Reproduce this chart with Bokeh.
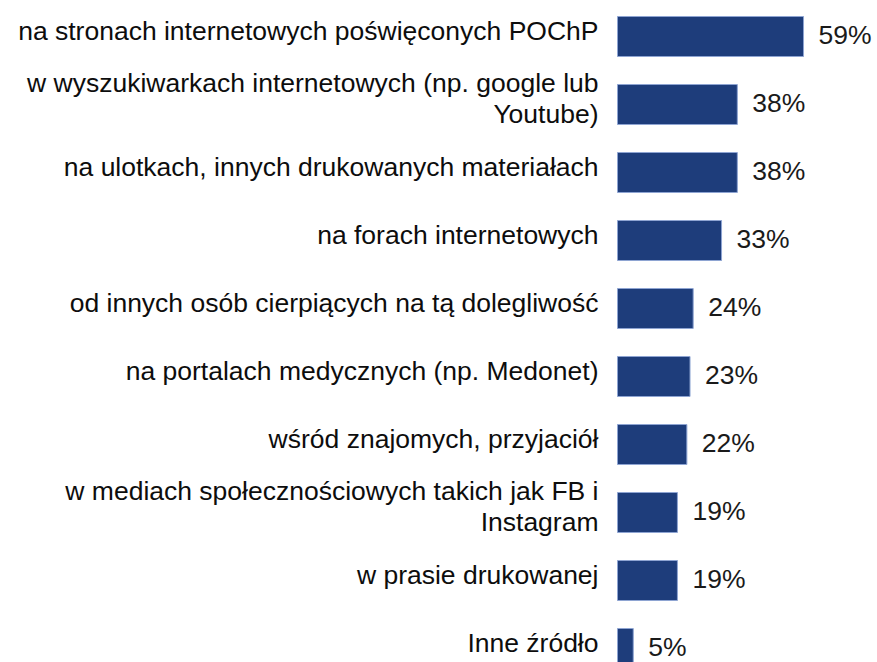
from bokeh.plotting import figure
from bokeh.models import ColumnDataSource, Range1d
from bokeh.core.properties import value
from bokeh.embed import file_html
from bokeh.resources import INLINE

categories = [
    "na stronach internetowych poświęconych POChP",
    "w wyszukiwarkach internetowych (np. google lub\nYoutube)",
    "na ulotkach, innych drukowanych materiałach",
    "na forach internetowych",
    "od innych osób cierpiących na tą dolegliwość",
    "na portalach medycznych (np. Medonet)",
    "wśród znajomych, przyjaciół",
    "w mediach społecznościowych takich jak FB i\nInstagram",
    "w prasie drukowanej",
    "Inne źródło",
]
values = [59, 38, 38, 33, 24, 23, 22, 19, 19, 5]
value_labels = [f"{v}%" for v in values]

W, H = 877, 662
px_per_unit = 3.153
zero_px = 617
row_px = 68
top_px = 36

positions = list(range(len(categories)))
src = ColumnDataSource(dict(y=positions, v=values, cat=categories, lab=value_labels,
                            zero=[0] * len(values)))

p = figure(width=W, height=H, output_backend="svg", toolbar_location=None,
           x_range=Range1d(-zero_px / px_per_unit, (W - zero_px) / px_per_unit),
           y_range=Range1d(H / row_px - top_px / row_px, -top_px / row_px),
           min_border=0, min_border_left=0, min_border_right=0,
           min_border_top=0, min_border_bottom=0)
p.axis.visible = False
p.grid.visible = False
p.outline_line_color = None
p.background_fill_color = "white"
p.border_fill_color = "white"

p.hbar(y="y", left="zero", right="v", height=40 / row_px, source=src,
       fill_color="#1E3D7B", line_color="#8EA4D2", line_width=1)

p.text(x="zero", y="y", text="cat", source=src, x_offset=-19, y_offset=-6,
       text_align="right", text_baseline="middle", text_font=value("Liberation Sans"),
       text_font_size="26.5px", text_color="#0d0d0d", text_line_height=1.06)

p.text(x="v", y="y", text="lab", source=src, x_offset=15, y_offset=-1.5,
       text_align="left", text_baseline="middle", text_font=value("Liberation Sans"),
       text_font_size="26.5px", text_color="#1a1a1a")

open("out.html", "w").write(file_html(p, INLINE))
